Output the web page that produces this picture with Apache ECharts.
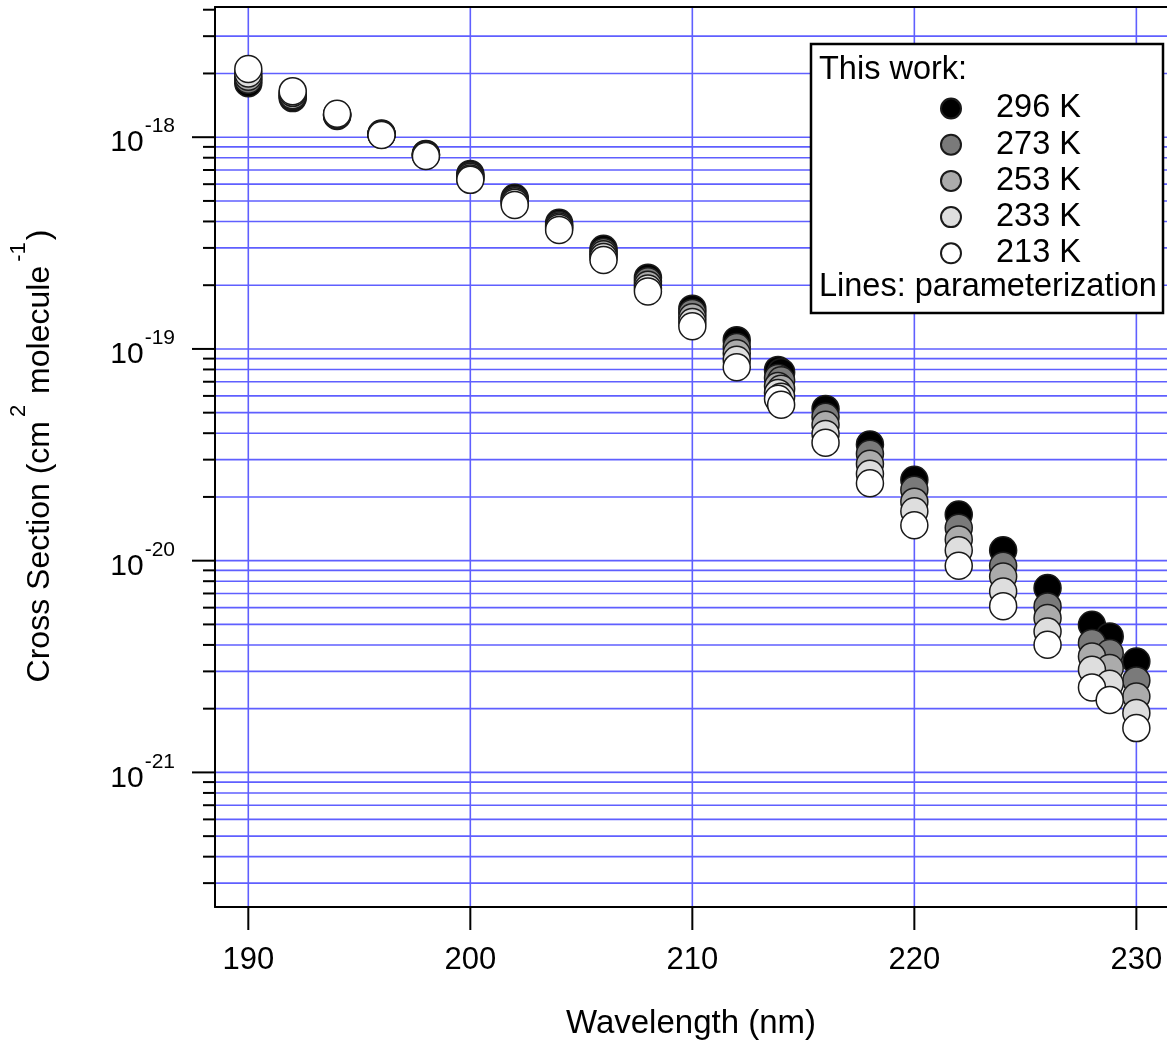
<!DOCTYPE html>
<html>
<head>
<meta charset="utf-8">
<script src="https://cdn.jsdelivr.net/npm/echarts@6/dist/echarts.min.js"></script>
<style>
html,body{margin:0;padding:0;background:#fff;}
#chart{width:1167px;height:1040px;}
</style>
</head>
<body>
<div id="chart"></div>
<script>
// ---------------- data ----------------
const wavelengths = [190, 192, 194, 196, 198, 200, 202, 204, 206, 208, 210, 212, 213.86, 214, 216, 218, 220, 222, 224, 226, 228, 228.8, 230];

const sigma296 = [1.80e-18, 1.53e-18, 1.26e-18, 1.040e-18, 8.34e-19, 6.71e-19, 5.17e-19, 3.94e-19, 2.97e-19, 2.17e-19, 1.55e-19, 1.10e-19, 7.96e-20, 7.77e-20, 5.21e-20, 3.54e-20, 2.41e-20, 1.65e-20, 1.12e-20, 7.43e-21, 4.98e-21, 4.39e-21, 3.34e-21];
const sigma273 = [1.87e-18, 1.56e-18, 1.27e-18, 1.036e-18, 8.30e-19, 6.60e-19, 5.06e-19, 3.85e-19, 2.87e-19, 2.09e-19, 1.48e-19, 1.02e-19, 7.30e-20, 7.11e-20, 4.78e-20, 3.20e-20, 2.16e-20, 1.43e-20, 9.46e-21, 6.08e-21, 4.08e-21, 3.66e-21, 2.72e-21];
const sigma253 = [1.93e-18, 1.58e-18, 1.275e-18, 1.033e-18, 8.25e-19, 6.50e-19, 4.98e-19, 3.79e-19, 2.80e-19, 2.01e-19, 1.41e-19, 9.53e-20, 6.69e-20, 6.48e-20, 4.38e-20, 2.87e-20, 1.90e-20, 1.26e-20, 8.42e-21, 5.36e-21, 3.53e-21, 3.11e-21, 2.28e-21];
const sigma233 = [2.00e-18, 1.62e-18, 1.28e-18, 1.029e-18, 8.21e-19, 6.39e-19, 4.90e-19, 3.73e-19, 2.72e-19, 1.93e-19, 1.34e-19, 8.88e-20, 6.20e-20, 5.94e-20, 3.97e-20, 2.57e-20, 1.71e-20, 1.12e-20, 7.15e-21, 4.63e-21, 3.05e-21, 2.62e-21, 1.91e-21];
const sigma213 = [2.10e-18, 1.65e-18, 1.29e-18, 1.025e-18, 8.16e-19, 6.29e-19, 4.79e-19, 3.65e-19, 2.63e-19, 1.87e-19, 1.28e-19, 8.20e-20, 5.81e-20, 5.45e-20, 3.61e-20, 2.32e-20, 1.47e-20, 9.46e-21, 6.10e-21, 4.01e-21, 2.52e-21, 2.20e-21, 1.62e-21];

const seriesNames = ['296 K', '273 K', '253 K', '233 K', '213 K'];
const seriesColors = ['#000000', '#7a7a7a', '#ababab', '#dedede', '#ffffff'];

const xTickValues = [190, 200, 210, 220, 230];
const yDecadeExponents = [-21, -20, -19, -18];

const xTitle = 'Wavelength (nm)';
const yTitleRich = '{n|Cross Section (cm}{s|2}{n| molecule}{s|-1}{n|)}';
const legendTitle = 'This work:';
const legendFooter = 'Lines: parameterization';

// ---------------- axis extents ----------------
const X_MIN = 188.5, X_MAX = 231.38;
const Y_MIN = 2.314e-22, Y_MAX = 4.12e-18;

const FONT = '"Liberation Sans", Arial, sans-serif';
const GRID_BLUE = '#5f5fff';

// horizontal grid values (decades and 2..9 subdivisions); the top-most tick has no grid line
const yGridValues = [];
for (let e = -22; e <= -18; e++) {
  for (let m = 1; m <= 9; m++) {
    const v = m * Math.pow(10, e);
    if (v >= Y_MIN && v <= Y_MAX) yGridValues.push([X_MIN, v, m === 1 ? 1 : 0, v < 3.5e-18 ? 1 : 0]);
  }
}

const sigmaSets = [sigma296, sigma273, sigma253, sigma233, sigma213];

const scatterSeries = seriesNames.map((name, i) => ({
  name: name,
  type: 'scatter',
  symbol: 'circle',
  symbolSize: 27,
  z: 3 + i,
  xAxisIndex: 0,
  itemStyle: { color: seriesColors[i], borderColor: '#1a1a1a', borderWidth: 1.5, opacity: 1 },
  data: wavelengths.map((w, k) => [w, sigmaSets[i][k]])
}));

const chart = echarts.init(document.getElementById('chart'), null, { renderer: 'canvas' });

const option = {
  backgroundColor: '#ffffff',
  animation: false,
  textStyle: { fontFamily: FONT },
  grid: { left: 215, top: 7, right: 0, bottom: 133, show: false, containLabel: false, outerBoundsMode: 'none' },
  xAxis: [
    {
      type: 'value',
      position: 'bottom',
      min: X_MIN, max: X_MAX,
      axisLine: { show: true, onZero: false, lineStyle: { color: '#000', width: 2 } },
      axisTick: { show: false },
      splitLine: { show: false },
      axisLabel: {
        fontSize: 31, color: '#000', margin: 38, fontFamily: FONT,
        formatter: function (v) {
          const r = Math.round(v);
          return (Math.abs(v - r) < 1e-6 && xTickValues.indexOf(r) >= 0) ? String(r) : '';
        }
      },
      name: xTitle,
      nameLocation: 'middle',
      nameGap: 100,
      nameTextStyle: { fontSize: 33, color: '#000', fontFamily: FONT }
    },
    {
      type: 'value',
      position: 'top',
      min: X_MIN, max: X_MAX,
      axisLine: { show: true, onZero: false, lineStyle: { color: '#000', width: 2 } },
      axisTick: { show: false },
      splitLine: { show: false },
      axisLabel: { show: false }
    }
  ],
  yAxis: {
    type: 'log',
    logBase: 10,
    min: Y_MIN, max: Y_MAX,
    axisLine: { show: true, onZero: false, lineStyle: { color: '#000', width: 2 } },
    axisTick: { show: false },
    splitLine: { show: false },
    minorTick: { show: false },
    minorSplitLine: { show: false },
    axisLabel: {
      margin: 40,
      formatter: function (v) {
        const e = Math.log10(v);
        const r = Math.round(e);
        if (Math.abs(e - r) > 1e-6 || yDecadeExponents.indexOf(r) < 0) return '';
        return '{b|10}{s|' + r + '}';
      },
      rich: {
        b: { fontSize: 30, color: '#000', verticalAlign: 'bottom', fontFamily: FONT },
        s: { fontSize: 21, color: '#000', verticalAlign: 'top', padding: [0, 0, 21, 1], fontFamily: FONT }
      }
    }
  },
  legend: {
    data: seriesNames,
    orient: 'vertical',
    left: 940,
    top: 92,
    padding: 0,
    itemWidth: 20,
    itemHeight: 20,
    itemGap: 3.2,
    icon: 'circle',
    selectedMode: false,
    z: 100,
    textStyle: { fontSize: 32.5, color: '#000', fontFamily: FONT, padding: [0, 0, 0, 30] }
  },
  graphic: [
    { type: 'rect', z: 50, shape: { x: 811, y: 44, width: 352, height: 269 }, style: { fill: '#fff', stroke: '#000', lineWidth: 2.5 } },
    { type: 'text', z: 51, x: 819, y: 70, style: { text: legendTitle, fontSize: 32.5, fontFamily: FONT, fill: '#000', verticalAlign: 'middle', align: 'left' } },
    { type: 'text', z: 51, x: 819, y: 287, style: { text: legendFooter, fontSize: 32.5, fontFamily: FONT, fill: '#000', verticalAlign: 'middle', align: 'left' } },
    {
      type: 'text', z: 51, x: 32, y: 456, rotation: Math.PI / 2,
      style: {
        text: yTitleRich, align: 'center', verticalAlign: 'middle', fill: '#000',
        rich: {
          n: { fontSize: 32, fontFamily: FONT, fill: '#000', verticalAlign: 'bottom' },
          s: { fontSize: 22, fontFamily: FONT, fill: '#000', verticalAlign: 'top', padding: [0, 2, 26, 4] }
        }
      }
    }
  ],
  series: [
    {
      name: 'ygrid',
      type: 'custom',
      silent: true,
      z: 1,
      xAxisIndex: 0,
      data: yGridValues,
      renderItem: function (params, api) {
        const cs = params.coordSys;
        const p = api.coord([api.value(0), api.value(1)]);
        const y = p[1];
        const major = api.value(2) === 1;
        const children = [
          { type: 'line', shape: { x1: cs.x - (major ? 23 : 12), y1: y, x2: cs.x - 1, y2: y }, style: { stroke: '#000', lineWidth: 2 } }
        ];
        if (api.value(3) === 1) {
          children.push({ type: 'line', shape: { x1: cs.x + 1, y1: y, x2: cs.x + cs.width, y2: y }, style: { stroke: GRID_BLUE, lineWidth: 1.6 } });
        }
        return { type: 'group', children: children };
      }
    },
    {
      name: 'xgrid',
      type: 'custom',
      silent: true,
      z: 1,
      xAxisIndex: 0,
      data: xTickValues.map(v => [v, Y_MIN]),
      renderItem: function (params, api) {
        const cs = params.coordSys;
        const p = api.coord([api.value(0), api.value(1)]);
        const x = p[0];
        return {
          type: 'group',
          children: [
            { type: 'line', shape: { x1: x, y1: cs.y + 1, x2: x, y2: cs.y + cs.height - 1 }, style: { stroke: GRID_BLUE, lineWidth: 1.6 } },
            { type: 'line', shape: { x1: x, y1: cs.y + cs.height + 1, x2: x, y2: cs.y + cs.height + 23 }, style: { stroke: '#000', lineWidth: 2 } }
          ]
        };
      }
    }
  ].concat(scatterSeries)
};

chart.setOption(option);
</script>
</body>
</html>
